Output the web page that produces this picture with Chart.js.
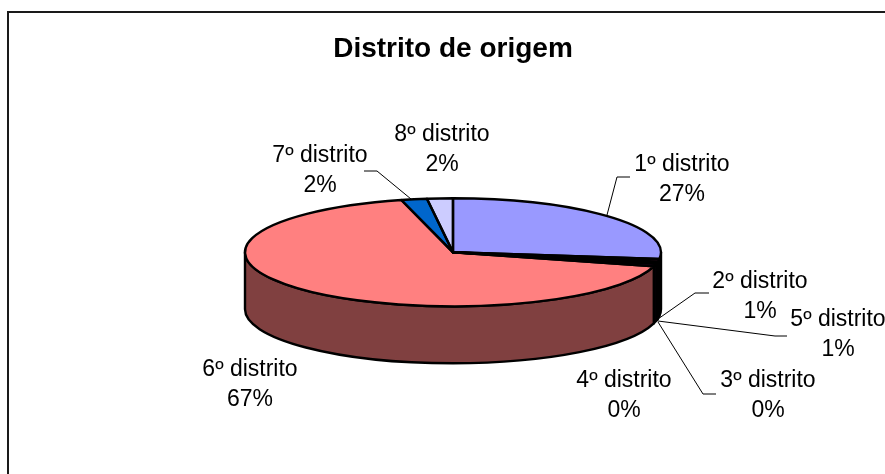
<!DOCTYPE html>
<html>
<head>
<meta charset="utf-8">
<title>Distrito de origem</title>
<script src="https://cdn.jsdelivr.net/npm/chart.js@4/dist/chart.umd.min.js"></script>
<style>
    html, body { margin: 0; padding: 0; background: #fff; overflow: hidden; }
    #frame {
        position: absolute; left: 7px; top: 11px; width: 892px; height: 480px;
        border-left: 2px solid #1a1a1a; border-top: 2px solid #1a1a1a;
    }
    #pie { position: absolute; left: -2px; top: -2px; }
</style>
</head>
<body>
<div id="frame"><canvas id="pie" width="892" height="480"></canvas></div>
<script>
// Chart data
const categories = ['1º distrito', '2º distrito', '3º distrito', '4º distrito', '5º distrito', '6º distrito', '7º distrito', '8º distrito'];
const shares = [27, 0.8, 0.3, 0.3, 0.8, 66.8, 2, 2];
const shareLabels = ['27%', '1%', '0%', '0%', '1%', '67%', '2%', '2%'];
const topColors = ['#9999FF', '#993366', '#FFFFCC', '#CCFFFF', '#660066', '#FF8080', '#0066CC', '#CCCCFF'];
const sideColors = ['#4C4C80', '#4C1933', '#808066', '#668080', '#330033', '#804040', '#003366', '#666680'];

// Page coordinates minus the canvas offset (7, 11)
const OFF_X = 7, OFF_Y = 11;
const PIE_CX = 453, PIE_CY = 252, SQUASH = 54 / 208, DEPTH = 57;
const PEN = 2.4;

// label centre (x, first line y), leader polyline
const labelSpots = [
    { x: 682, y: 165, leader: [[607, 215], [617, 177], [630, 177]] },
    { x: 760, y: 282, leader: [[658, 319], [695, 293], [709, 293]] },
    { x: 768, y: 381, leader: [[658, 322], [703, 394], [716, 394]] },
    { x: 624, y: 381 },
    { x: 838, y: 320, leader: [[658, 321], [775, 336], [787, 336]] },
    { x: 250, y: 370 },
    { x: 320, y: 156, leader: [[411, 199], [377, 171], [364, 171]] },
    { x: 442, y: 135 },
];

const pie3d = {
    id: 'pie3d',
    beforeDatasetsDraw(chart) {
        const ctx = chart.ctx;
        const arcs = chart.getDatasetMeta(0).data;
        const { x, y, outerRadius: r } = arcs[0];
        const ry = r * SQUASH;

        // side wall, only the part of each slice facing the viewer
        ctx.save();
        ctx.lineWidth = PEN;
        ctx.strokeStyle = '#000';
        ctx.lineJoin = 'round';
        arcs.forEach((arc, i) => {
            const a = Math.max(arc.startAngle, 0);
            const b = Math.min(arc.endAngle, Math.PI);
            if (b <= a) return;
            ctx.beginPath();
            ctx.ellipse(x, y, r, ry, 0, a, b);
            ctx.ellipse(x, y + DEPTH, r, ry, 0, b, a, true);
            ctx.closePath();
            ctx.fillStyle = sideColors[i];
            ctx.fill();
            ctx.stroke();
        });
        ctx.restore();

        // flatten the library's own arcs into an ellipse
        ctx.save();
        ctx.translate(0, y);
        ctx.scale(1, SQUASH);
        ctx.translate(0, -y);
    },
    afterDatasetsDraw(chart) {
        const ctx = chart.ctx;
        ctx.restore();

        const arcs = chart.getDatasetMeta(0).data;
        const { x, y, outerRadius: r } = arcs[0];
        const ry = r * SQUASH;

        // outlines drawn unscaled so the pen width stays even
        ctx.save();
        ctx.lineWidth = PEN;
        ctx.strokeStyle = '#000';
        ctx.lineJoin = 'round';
        arcs.forEach(arc => {
            ctx.beginPath();
            ctx.moveTo(x, y);
            ctx.ellipse(x, y, r, ry, 0, arc.startAngle, arc.endAngle);
            ctx.closePath();
            ctx.stroke();
        });
        ctx.restore();

        // leaders and data labels
        ctx.save();
        ctx.translate(-OFF_X, -OFF_Y);
        ctx.strokeStyle = '#000';
        ctx.lineWidth = 1;
        ctx.fillStyle = '#000';
        ctx.font = '23px "Liberation Sans", Arial, sans-serif';
        ctx.textAlign = 'center';
        ctx.textBaseline = 'middle';
        labelSpots.forEach((spot, i) => {
            if (spot.leader) {
                ctx.beginPath();
                spot.leader.forEach(([px, py], k) => k ? ctx.lineTo(px, py) : ctx.moveTo(px, py));
                ctx.stroke();
            }
            ctx.fillText(categories[i], spot.x, spot.y);
            ctx.fillText(shareLabels[i], spot.x, spot.y + 30);
        });
        ctx.restore();
    }
};

new Chart(document.getElementById('pie'), {
    type: 'pie',
    data: {
        labels: categories,
        datasets: [{
            data: shares,
            backgroundColor: topColors,
            borderWidth: 0,
            clip: false,
        }]
    },
    options: {
        responsive: false,
        animation: false,
        radius: 208,
        layout: {
            padding: { left: PIE_CX - OFF_X - 220, right: 892 - (PIE_CX - OFF_X + 220), top: 0, bottom: 52 }
        },
        plugins: {
            legend: { display: false },
            tooltip: { enabled: false },
            title: {
                display: true,
                text: 'Distrito de origem',
                color: '#000',
                font: { family: '"Liberation Sans", Arial, sans-serif', size: 28, weight: 'bold' },
                padding: { top: 21, bottom: 0 },
            },
        }
    },
    plugins: [pie3d]
});
</script>
</body>
</html>
